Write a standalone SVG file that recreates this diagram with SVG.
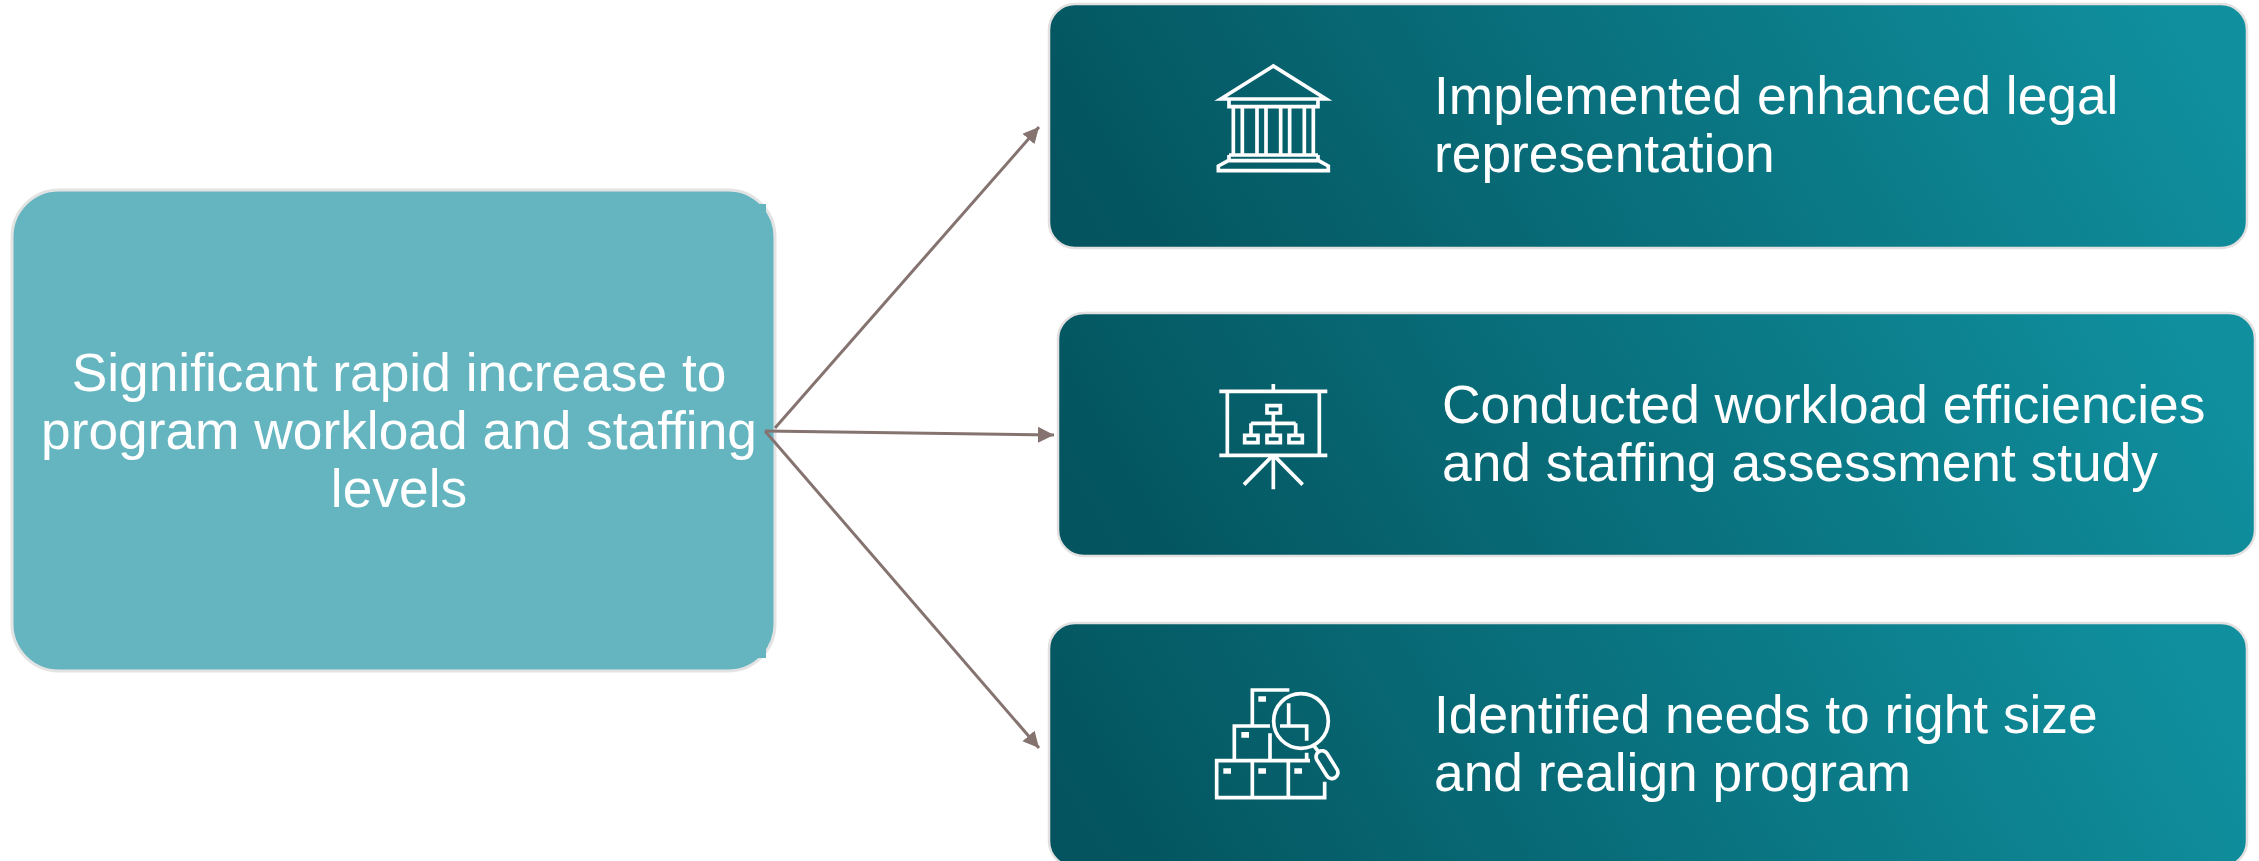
<svg xmlns="http://www.w3.org/2000/svg" width="2259" height="861" viewBox="0 0 2259 861">
<style>
text{font-family:"Liberation Sans",Arial,sans-serif;font-size:53.3px;fill:#fff}
.card{fill:url(#g);stroke:#e2e0e0;stroke-width:2.5}
.i{fill:none;stroke:#fff;stroke-width:11;stroke-linecap:butt;stroke-linejoin:miter}
.f{fill:#fff;stroke:none}
.c{fill:none;stroke:#857370;stroke-width:3}
</style>
<defs>
<linearGradient id="g" x1="0" y1="0.56" x2="1" y2="0.44">
<stop offset="0" stop-color="#03545E"/><stop offset="1" stop-color="#10909F"/>
</linearGradient>
<marker id="a" markerUnits="userSpaceOnUse" markerWidth="18" markerHeight="18" refX="16" refY="8" orient="auto">
<path d="M0 0L16 8L0 16Z" fill="#857370"/>
</marker>
</defs>
<g id="source">
<rect x="12" y="190" width="763" height="481" rx="47" fill="#65B5C1" stroke="#e3e3e3" stroke-width="3"/>
<path d="M757 204H766V214L757 206ZM757 658H766V648L757 656Z" fill="#65B5C1"/>
<text x="399" y="391" text-anchor="middle">Significant rapid increase to</text>
<text x="399" y="449" text-anchor="middle">program workload and staffing</text>
<text x="399" y="507" text-anchor="middle">levels</text>
</g>
<g id="connectors">
<path class="c" marker-end="url(#a)" d="M775 428L1039 127"/>
<path class="c" marker-end="url(#a)" d="M765 431L1054 435"/>
<path class="c" marker-end="url(#a)" d="M765 431L1039 748"/>
</g>
<g id="card1">
<rect class="card" x="1049" y="4" width="1198" height="244" rx="26"/>
<g transform="translate(1180 40) scale(.3333)">
<path class="i" d="M122 177L280 78L438 177ZM147 177V200H414V177M160 200V345M187 200V345M231 200V345M258 200V345M302 200V345M329 200V345M373 200V345M400 200V345M147 345H414M147 345V362M414 345V362M115 392V378L145 362H416L445 378V392Z"/>
</g>
<text x="1434" y="114">Implemented enhanced legal</text>
<text x="1434" y="172">representation</text>
</g>
<g id="card2">
<rect class="card" x="1058" y="313" width="1197" height="243" rx="26"/>
<g transform="translate(1190 360) scale(.3333)">
<path class="i" stroke-linecap="round" d="M250 72V94M88 94H412M112 94V286M388 94V286M88 286H412M250 286V388M245 290L162 374M255 290L338 374"/>
<path class="i" d="M231 137H271V159H231ZM250 159V226M183 190H317M183 190V226M317 190V226M164 226H204V248H164ZM231 226H271V248H231ZM297 226H337V248H297Z"/>
</g>
<text x="1442" y="423">Conducted workload efficiencies</text>
<text x="1442" y="481">and staffing assessment study</text>
</g>
<g id="card3">
<rect class="card" x="1049" y="623" width="1198" height="244" rx="26"/>
<g transform="translate(1190 670) scale(.3333)">
<path class="i" d="M404 335V383H80V272H360M187 272V383M295 272V383M133 272V168H240M270 168H350V212M350 248V272M240 190V272M187 168V60H298M296 100V165"/>
<circle class="i" cx="333" cy="153" r="82"/>
<path class="i" d="M372 228L386 246"/>
<rect class="i" x="393" y="238" width="36" height="92" rx="18" transform="rotate(-32 411 284)"/>
<path class="f" d="M100 295h23v16h-23zM205 295h23v16h-23zM313 295h23v16h-23zM154 186h23v17h-23zM205 79h23v16h-23z"/>
</g>
<text x="1434" y="733">Identified needs to right size</text>
<text x="1434" y="791">and realign program</text>
</g>
</svg>
